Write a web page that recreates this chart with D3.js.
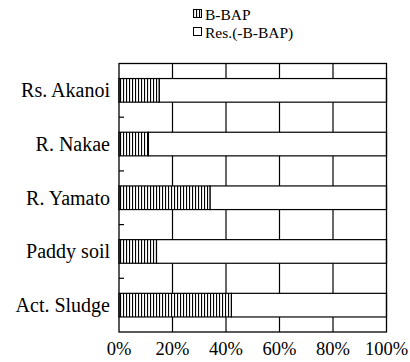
<!DOCTYPE html>
<html>
<head>
<meta charset="utf-8">
<script src="https://cdn.jsdelivr.net/npm/d3@7"></script>
<style>
  html, body { margin: 0; padding: 0; background: #fff; }
  text { font-family: "Liberation Serif", "Times New Roman", serif; fill: #000; }
</style>
</head>
<body>
<div id="chart"></div>
<script>
// ── data ──
const categories = ['Rs. Akanoi', 'R. Nakae', 'R. Yamato', 'Paddy soil', 'Act. Sludge'];
const bbap = [15, 11, 34, 14, 42];          // % B-BAP
const seriesNames = ['B-BAP', 'Res.(-B-BAP)'];
const xTicks = [0, 20, 40, 60, 80, 100];

const W = 410, H = 362;
const pLeft = 119, pRight = 386.5, pTop = 63.5, pBottom = 332;

const svg = d3.select('#chart').append('svg')
  .attr('width', W).attr('height', H);

// hatch pattern (vertical stripes)
const defs = svg.append('defs');
const pat = defs.append('pattern').attr('id', 'hatch')
  .attr('patternUnits', 'userSpaceOnUse')
  .attr('width', 3).attr('height', 6);
pat.append('rect').attr('width', 3).attr('height', 6).attr('fill', '#fff');
pat.append('rect').attr('x', 0).attr('width', 1.1).attr('height', 6).attr('fill', '#000');

const x = d3.scaleLinear().domain([0, 100]).range([pLeft, pRight]);
const y = d3.scaleBand().domain(categories).range([pTop, pBottom])
  .paddingInner(0.56).paddingOuter(0.28);

const rows = categories.map((c, i) => ({ name: c, v: bbap[i] }));

// vertical grid
svg.append('g').selectAll('line')
  .data(xTicks.slice(1, -1))
  .enter().append('line')
  .attr('x1', d => x(d)).attr('x2', d => x(d))
  .attr('y1', pTop).attr('y2', pBottom)
  .attr('stroke', '#000').attr('stroke-width', 1.2);

// left ticks at band boundaries (inward)
const step = y.step();
const bounds = d3.range(1, categories.length).map(i => y(categories[0]) - y.paddingInner() * step / 2 + i * step);
svg.append('g').selectAll('line')
  .data(bounds)
  .enter().append('line')
  .attr('x1', pLeft).attr('x2', pLeft + 5)
  .attr('y1', d => d).attr('y2', d => d)
  .attr('stroke', '#000').attr('stroke-width', 1.2);

// bars
const bars = svg.append('g');
bars.selectAll('rect.res')
  .data(rows).enter().append('rect').attr('class', 'res')
  .attr('x', d => x(d.v)).attr('width', d => x(100) - x(d.v))
  .attr('y', d => y(d.name)).attr('height', y.bandwidth())
  .attr('fill', '#fff').attr('stroke', '#000').attr('stroke-width', 1.2);
bars.selectAll('rect.bbap')
  .data(rows).enter().append('rect').attr('class', 'bbap')
  .attr('x', x(0)).attr('width', d => x(d.v) - x(0))
  .attr('y', d => y(d.name)).attr('height', y.bandwidth())
  .attr('fill', 'url(#hatch)').attr('stroke', '#000').attr('stroke-width', 1.2);

// frame
svg.append('rect')
  .attr('x', pLeft).attr('y', pTop)
  .attr('width', pRight - pLeft).attr('height', pBottom - pTop)
  .attr('fill', 'none').attr('stroke', '#000').attr('stroke-width', 1.3);

// category labels
svg.append('g').selectAll('text')
  .data(categories).enter().append('text')
  .attr('x', pLeft - 9)
  .attr('y', d => y(d) + y.bandwidth() / 2 + 7)
  .attr('text-anchor', 'end')
  .style('font-size', '20px')
  .text(d => d);

// x tick labels
svg.append('g').selectAll('text')
  .data(xTicks).enter().append('text')
  .attr('x', d => x(d))
  .attr('y', 355)
  .attr('text-anchor', 'middle')
  .style('font-size', '18.5px')
  .text(d => d + '%');

// legend
const lg = svg.append('g').attr('transform', 'translate(193,0)');
seriesNames.forEach((s, i) => {
  const yy = 20 + i * 18;
  lg.append('rect')
    .attr('x', 0.5).attr('y', yy - 10.5).attr('width', 8).attr('height', 8)
    .attr('fill', i === 0 ? 'url(#hatch)' : '#fff')
    .attr('stroke', '#000').attr('stroke-width', 1);
  lg.append('text')
    .attr('x', 12).attr('y', yy)
    .style('font-size', '15.5px')
    .text(s);
});
</script>
</body>
</html>
